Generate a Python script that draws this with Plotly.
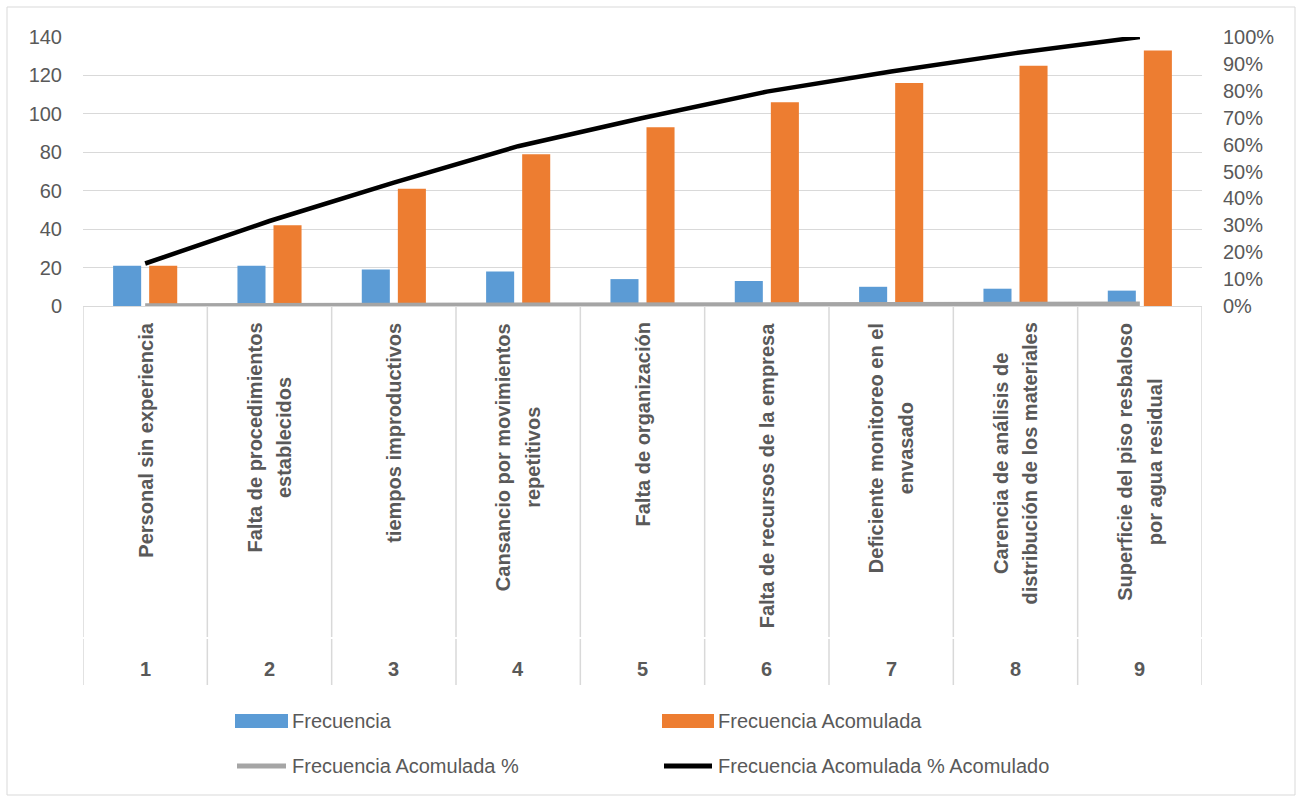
import plotly.graph_objects as go

# ---------------- data ----------------
categories = ["1", "2", "3", "4", "5", "6", "7", "8", "9"]
cause_labels = [
    ["Personal sin experiencia"],
    ["Falta de procedimientos", "establecidos"],
    ["tiempos improductivos"],
    ["Cansancio por movimientos", "repetitivos"],
    ["Falta de organización"],
    ["Falta de recursos de la empresa"],
    ["Deficiente monitoreo en el", "envasado"],
    ["Carencia de análisis de", "distribución de los materiales"],
    ["Superficie del piso resbaloso", "por agua residual"],
]
frecuencia = [21, 21, 19, 18, 14, 13, 10, 9, 8]
frecuencia_acum = [21, 42, 61, 79, 93, 106, 116, 125, 133]
frecuencia_acum_pct = [0.158, 0.316, 0.459, 0.594, 0.699, 0.797, 0.872, 0.940, 1.000]
frecuencia_acum_pct_acum = [0.158, 0.316, 0.459, 0.594, 0.699, 0.797, 0.872, 0.940, 1.000]

left_ticks = [0, 20, 40, 60, 80, 100, 120, 140]
right_ticks = [0, 0.1, 0.2, 0.3, 0.4, 0.5, 0.6, 0.7, 0.8, 0.9, 1.0]

# ---------------- layout geometry ----------------
W, H = 1301, 796
L, R, T, B = 83, 99, 37, 490
PW = W - L - R
PH = H - T - B
Y0 = H - B  # pixel y of plot bottom


def px(x):
    return (x - L) / PW


def py(y):
    return (Y0 - y) / PH


TXT = "#595959"
GRID = "#d9d9d9"
FONT = "Liberation Sans"

fig = go.Figure()
fig.add_trace(go.Bar(x=categories, y=frecuencia, name="Frecuencia",
                     marker=dict(color="#5B9BD5", line=dict(width=0))))
fig.add_trace(go.Bar(x=categories, y=frecuencia_acum, name="Frecuencia Acomulada",
                     marker=dict(color="#ED7D31", line=dict(width=0))))
fig.add_trace(go.Scatter(x=categories, y=frecuencia_acum_pct, name="Frecuencia Acomulada %",
                         mode="lines", line=dict(color="#A5A5A5", width=5)))
fig.add_trace(go.Scatter(x=categories, y=frecuencia_acum_pct_acum,
                         name="Frecuencia Acomulada % Acomulado",
                         mode="lines", line=dict(color="#000000", width=4.5), yaxis="y2"))

shapes = []
annotations = []

# category dividers (two levels)
for i in range(len(categories) + 1):
    xv = i - 0.5
    shapes.append(dict(type="line", xref="x", yref="paper", x0=xv, x1=xv,
                       y0=py(306), y1=py(637), line=dict(color=GRID, width=1.5), layer="below"))
    shapes.append(dict(type="line", xref="x", yref="paper", x0=xv, x1=xv,
                       y0=py(639), y1=py(685), line=dict(color=GRID, width=1.5), layer="below"))

# category labels (rotated) and numbers
for i, (cat, lines) in enumerate(zip(categories, cause_labels)):
    txt = "<br>".join('<span style="font-size:20px">%s</span>' % s for s in lines)
    annotations.append(dict(x=i, xref="x", y=py(321), yref="paper", text=txt,
                            textangle=-90, showarrow=False, xanchor="center", yanchor="top",
                            align="center",
                            font=dict(family=FONT, size=23, color=TXT, weight="bold")))
    annotations.append(dict(x=i, xref="x", y=py(669), yref="paper", text=cat,
                            showarrow=False, xanchor="center", yanchor="middle",
                            font=dict(family=FONT, size=20, color=TXT, weight="bold")))

# outer chart border
shapes.append(dict(type="rect", xref="paper", yref="paper", x0=px(7), x1=px(1295),
                   y0=py(795), y1=py(7), line=dict(color=GRID, width=1), layer="below"))

# manual legend
legend_items = [
    ("rect", "#5B9BD5", 235, 288, 721, "Frecuencia"),
    ("rect", "#ED7D31", 662, 714, 721, "Frecuencia Acomulada"),
    ("line", "#A5A5A5", 235, 288, 766, "Frecuencia Acomulada %"),
    ("line", "#000000", 662, 714, 766, "Frecuencia Acomulada % Acomulado"),
]
for kind, col, x0, x1, yc, name in legend_items:
    if kind == "rect":
        shapes.append(dict(type="rect", xref="paper", yref="paper", x0=px(x0), x1=px(x1),
                           y0=py(yc + 7), y1=py(yc - 7), fillcolor=col, line=dict(width=0)))
    else:
        shapes.append(dict(type="line", xref="paper", yref="paper", x0=px(x0 + 2), x1=px(x1 - 2),
                           y0=py(yc), y1=py(yc), line=dict(color=col, width=5)))
    annotations.append(dict(x=px(x1 + 2), xref="paper", y=py(yc), yref="paper", text=name,
                            showarrow=False, xanchor="left", yanchor="middle",
                            font=dict(family=FONT, size=20, color=TXT)))

fig.update_layout(
    width=W, height=H,
    margin=dict(l=L, r=R, t=T, b=B, pad=0),
    paper_bgcolor="white", plot_bgcolor="white",
    showlegend=False,
    barmode="group", bargap=0.42, bargroupgap=0.222,
    font=dict(family=FONT, color=TXT, size=20),
    xaxis=dict(type="category", range=[-0.5, len(categories) - 0.5], autorange=False,
               showticklabels=False, showgrid=False, zeroline=False,
               showline=True, linecolor=GRID, linewidth=1, ticks=""),
    yaxis=dict(range=[0, 140], tickvals=left_ticks, showgrid=True, gridcolor=GRID,
               gridwidth=1, zeroline=False, showline=False, ticks="",
               tickfont=dict(family=FONT, size=20, color=TXT), ticklabelstandoff=20),
    yaxis2=dict(range=[0, 1], tickvals=right_ticks, tickformat=".0%", overlaying="y",
                side="right", showgrid=False, zeroline=False, showline=False, ticks="",
                tickfont=dict(family=FONT, size=20, color=TXT), ticklabelstandoff=20),
    shapes=shapes,
    annotations=annotations,
)

fig.write_html("out.html")
